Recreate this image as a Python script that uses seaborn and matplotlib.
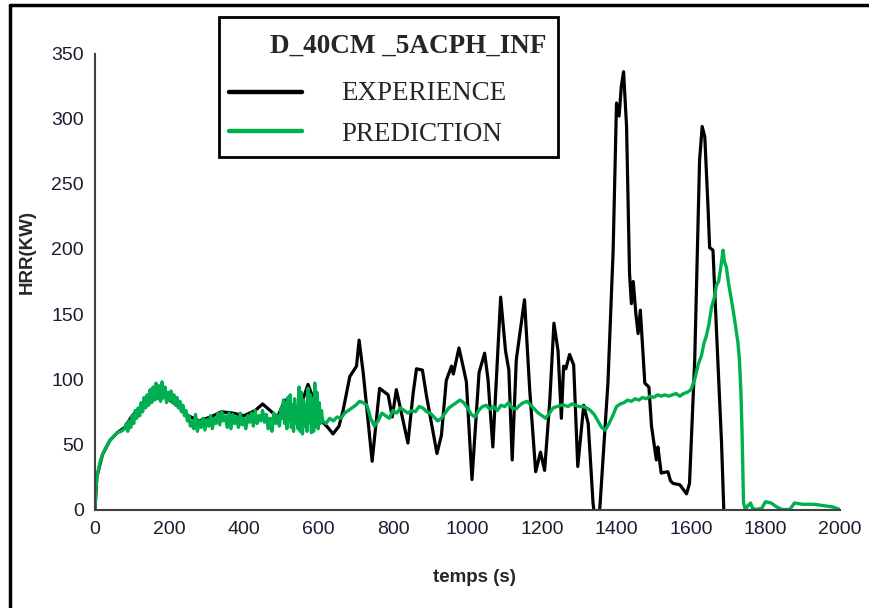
import seaborn as sns
import pandas as pd
import matplotlib.pyplot as plt
from matplotlib.lines import Line2D
from matplotlib.patches import Rectangle

# EXPERIENCE (measured HRR)
exp_t = [0, 5, 20, 40, 60, 80, 100, 130, 160, 190, 220, 250, 280, 310, 340, 370, 400,
         430, 450, 470, 490, 510, 530, 550, 572, 590, 608, 625, 639, 655, 666, 684, 702,
         709, 720, 744, 764, 787, 798, 809, 840, 854, 863, 879, 890, 918, 930, 943, 957,
         962, 977, 988, 997, 1012, 1031, 1046, 1055, 1068, 1089, 1102, 1111, 1120, 1131,
         1153, 1167, 1183, 1196, 1207, 1221, 1232, 1243, 1252, 1258, 1264, 1274, 1285,
         1296, 1312, 1324, 1337, 1345, 1355, 1377, 1391, 1400, 1407, 1413, 1419, 1427,
         1435, 1440, 1445, 1452, 1458, 1464, 1476, 1487, 1494, 1507, 1511, 1520, 1538,
         1545, 1552, 1570, 1588, 1596, 1610, 1623, 1630, 1637, 1646, 1650, 1659, 1668,
         1682, 1688, 1700, 2000]
exp_v = [0, 25, 42, 53, 59, 63, 72, 80, 85, 86, 80, 72, 68, 71, 75, 74, 72,
         76, 81, 76, 71, 84, 80, 78, 96, 82, 68, 63, 58, 64, 76, 102, 110,
         130, 105, 37, 93, 88, 71, 92, 51, 89, 108, 107, 87, 43, 57, 99, 110,
         104, 124, 110, 98, 23, 105, 120, 100, 48, 163, 122, 107, 38, 115,
         161, 92, 29, 44, 30, 84, 143, 122, 70, 110, 108, 119, 111,
         33, 80, 66, 5, -15, 0, 97, 199, 312, 302, 325, 336, 294,
         181, 158, 175, 150, 135, 153, 97, 94, 64, 38, 48, 28, 29,
         22, 20, 19, 12, 20, 115, 268, 294, 286, 230, 201, 199, 140,
         51, 0, -20, -20]

# PREDICTION (model HRR)
pred_t = [0, 2, 5, 10, 15, 20, 30, 40, 50, 60, 70, 80,
          84, 88, 92, 96, 100, 104, 108, 112, 116, 120, 124, 128, 132, 136, 140, 144,
          148, 152, 156, 160, 164, 168, 172, 176, 180, 184, 188, 192, 196, 200, 204,
          208, 212, 216, 220, 224, 228, 232, 236, 240, 244, 248, 252, 256, 260,
          265, 270, 275, 280, 285, 290, 295, 300, 305, 310, 315, 320, 325, 330, 335,
          340, 345, 350, 355, 360, 365, 370, 375, 380, 385, 390, 395, 400, 405, 410,
          415, 420, 425, 430, 435, 440, 445, 450, 455, 460, 465, 470, 475, 480, 485,
          490, 495, 500,
          503, 506, 509, 512, 515, 518, 521, 524, 527, 530, 533, 536, 539, 542, 545,
          548, 551, 554, 557, 560, 563, 566, 569, 572, 575, 578, 581, 584, 587, 590,
          593, 596, 599, 602, 605, 608, 611,
          620, 630, 640, 650, 660, 670, 680, 690, 700, 710, 720, 730, 740, 750, 760,
          770, 780, 790, 800, 810, 820, 830, 840, 850, 860, 870, 880, 890, 900, 910,
          920, 930, 940, 950, 960, 970, 980, 990, 1000, 1010, 1020, 1030, 1040, 1050,
          1060, 1070, 1080, 1090, 1100, 1110, 1120, 1130, 1140, 1150, 1160, 1170, 1180,
          1190, 1200, 1210, 1220, 1230, 1240, 1250, 1260, 1270, 1280, 1290, 1300, 1310,
          1320, 1330, 1340, 1350, 1360, 1370, 1380, 1390, 1400, 1410, 1420, 1430, 1440,
          1450, 1460, 1470, 1480, 1490, 1500, 1510, 1520, 1530, 1540, 1550, 1560, 1570,
          1580, 1590, 1600,
          1610, 1620, 1628, 1635, 1641, 1648, 1655, 1662, 1668, 1674, 1680, 1686, 1690,
          1695, 1700, 1706, 1712, 1720, 1726, 1730, 1734, 1737, 1741, 1746, 1753, 1760,
          1765, 1775, 1790, 1800, 1815, 1830, 1845, 1865, 1878, 1900, 1930, 1955, 1980,
          2000]
pred_v = [0, 15, 25, 32, 38, 42, 48, 53, 56, 59, 60, 62,
          66, 60, 68, 63, 72, 66, 76, 70, 78, 72, 82, 75, 86, 78, 88, 80,
          92, 82, 94, 84, 97, 85, 95, 83, 98, 86, 94, 82, 90, 84, 91,
          82, 88, 80, 86, 78, 83, 75, 80, 72, 76, 68, 72, 64, 68,
          62, 73, 60, 68, 63, 70, 61, 69, 64, 72, 62, 70, 66, 74, 65,
          75, 68, 72, 63, 74, 62, 73, 66, 71, 63, 74, 65, 70, 62, 72,
          67, 74, 64, 76, 66, 72, 68, 76, 67, 73, 62, 70, 60, 74, 66,
          72, 64, 78,
          70, 84, 66, 82, 62, 86, 68, 88, 63, 80, 60, 85, 66, 78, 62,
          94, 60, 90, 58, 84, 64, 80, 60, 93, 66, 88, 59, 85, 60, 97,
          64, 90, 62, 82, 66, 76, 68,
          66, 70, 68, 71, 70, 74, 76, 78, 80, 83, 82, 80, 70, 64, 68,
          74, 72, 70, 76, 74, 78, 76, 74, 76, 75, 79, 78, 75, 74, 71,
          68, 70, 74, 78, 80, 82, 84, 82, 78, 73, 71, 76, 79, 80,
          77, 79, 76, 80, 79, 82, 78, 77, 80, 82, 83, 80, 77,
          74, 72, 70, 74, 78, 79, 80, 80, 79, 81, 80, 79, 79,
          78, 76, 73, 68, 63, 61, 66, 72, 79, 81, 82, 84, 83,
          85, 84, 86, 85, 87, 86, 88, 87, 88, 87, 88, 89, 87,
          89, 90, 92,
          100, 112, 118, 128, 133, 142, 155, 162, 172, 175, 186, 199, 190,
          186, 175, 165, 155, 140, 128, 115, 90, 60, 5, 0, 3, 5,
          1, 0, 1, 6, 5, 2, 0, 0, 5, 4, 4, 3, 2,
          0]

series_names = ['EXPERIENCE', 'PREDICTION']
series_colors = ['black', '#00B050']
legend_title = 'D_40CM _5ACPH_INF'
x_ticks = list(range(0, 2001, 200))
y_ticks = list(range(0, 351, 50))

df_exp = pd.DataFrame({'temps': exp_t, 'HRR': exp_v})
df_pred = pd.DataFrame({'temps': pred_t, 'HRR': pred_v})

sns.set_style('white')
plt.rcParams['font.family'] = ['Liberation Sans', 'DejaVu Sans']

W, H = 869, 608
fig = plt.figure(figsize=(W / 100, H / 100), dpi=100)
ax = fig.add_axes([95 / W, 1 - 509.5 / H, 745 / W, 456 / H])

sns.lineplot(data=df_exp, x='temps', y='HRR', ax=ax, color=series_colors[0],
             lw=2.3, legend=False, sort=False)
sns.lineplot(data=df_pred, x='temps', y='HRR', ax=ax, color=series_colors[1],
             lw=2.4, legend=False, sort=False)

ax.set_xlim(0, 2000)
ax.set_ylim(0, 350)
ax.set_xticks(x_ticks)
ax.set_yticks(y_ticks)
ax.tick_params(axis='both', direction='out', length=4, width=1.5, colors='#404040',
               labelsize=14, labelcolor='#1c1c30', pad=4)
for side in ['top', 'right']:
    ax.spines[side].set_visible(False)
for side in ['left', 'bottom']:
    ax.spines[side].set_color('#404040')
    ax.spines[side].set_linewidth(1.5)

ax.set_xlabel('temps (s)', fontsize=13.5, fontweight='bold')
ax.set_ylabel('HRR(KW)', fontsize=13.5, fontweight='bold')
ax.xaxis.set_label_coords((474 - 95) / 745, -(578 - 509.5) / 456)
ax.yaxis.set_label_coords((27 - 95) / 745, (509.5 - 252.5) / 456)
ax.xaxis.label.set_va('center')
ax.yaxis.label.set_va('center')

# legend box drawn like the spreadsheet one
def fx(px):
    return px / W

def fy(py):
    return 1 - py / H

fig.add_artist(Rectangle((fx(219), fy(157)), fx(339), 140 / H, transform=fig.transFigure,
                         facecolor='white', edgecolor='black', lw=2, zorder=5))
fig.text(fx(546), fy(53), legend_title, ha='right', va='baseline', fontsize=19.5,
         fontweight='bold', family='Liberation Serif', zorder=6)
handle_y = [91.5, 130.5]
text_y = [99.5, 141]
for name, col, hy, ty in zip(series_names, series_colors, handle_y, text_y):
    fig.add_artist(Line2D([fx(229), fx(302)], [fy(hy), fy(hy)], color=col, lw=3.2,
                          transform=fig.transFigure, zorder=6))
    fig.text(fx(341), fy(ty), name, ha='left', va='baseline', fontsize=19.5,
             family='Liberation Serif', zorder=6)

# outer chart frame (left and top edges visible in the reference)
fig.add_artist(Line2D([fx(10), fx(10)], [fy(5), 0], color='black', lw=2.5,
                      transform=fig.transFigure))
fig.add_artist(Line2D([fx(10), 1], [fy(5), fy(5)], color='black', lw=2.5,
                      transform=fig.transFigure))

fig.savefig('out.png', dpi=100)
